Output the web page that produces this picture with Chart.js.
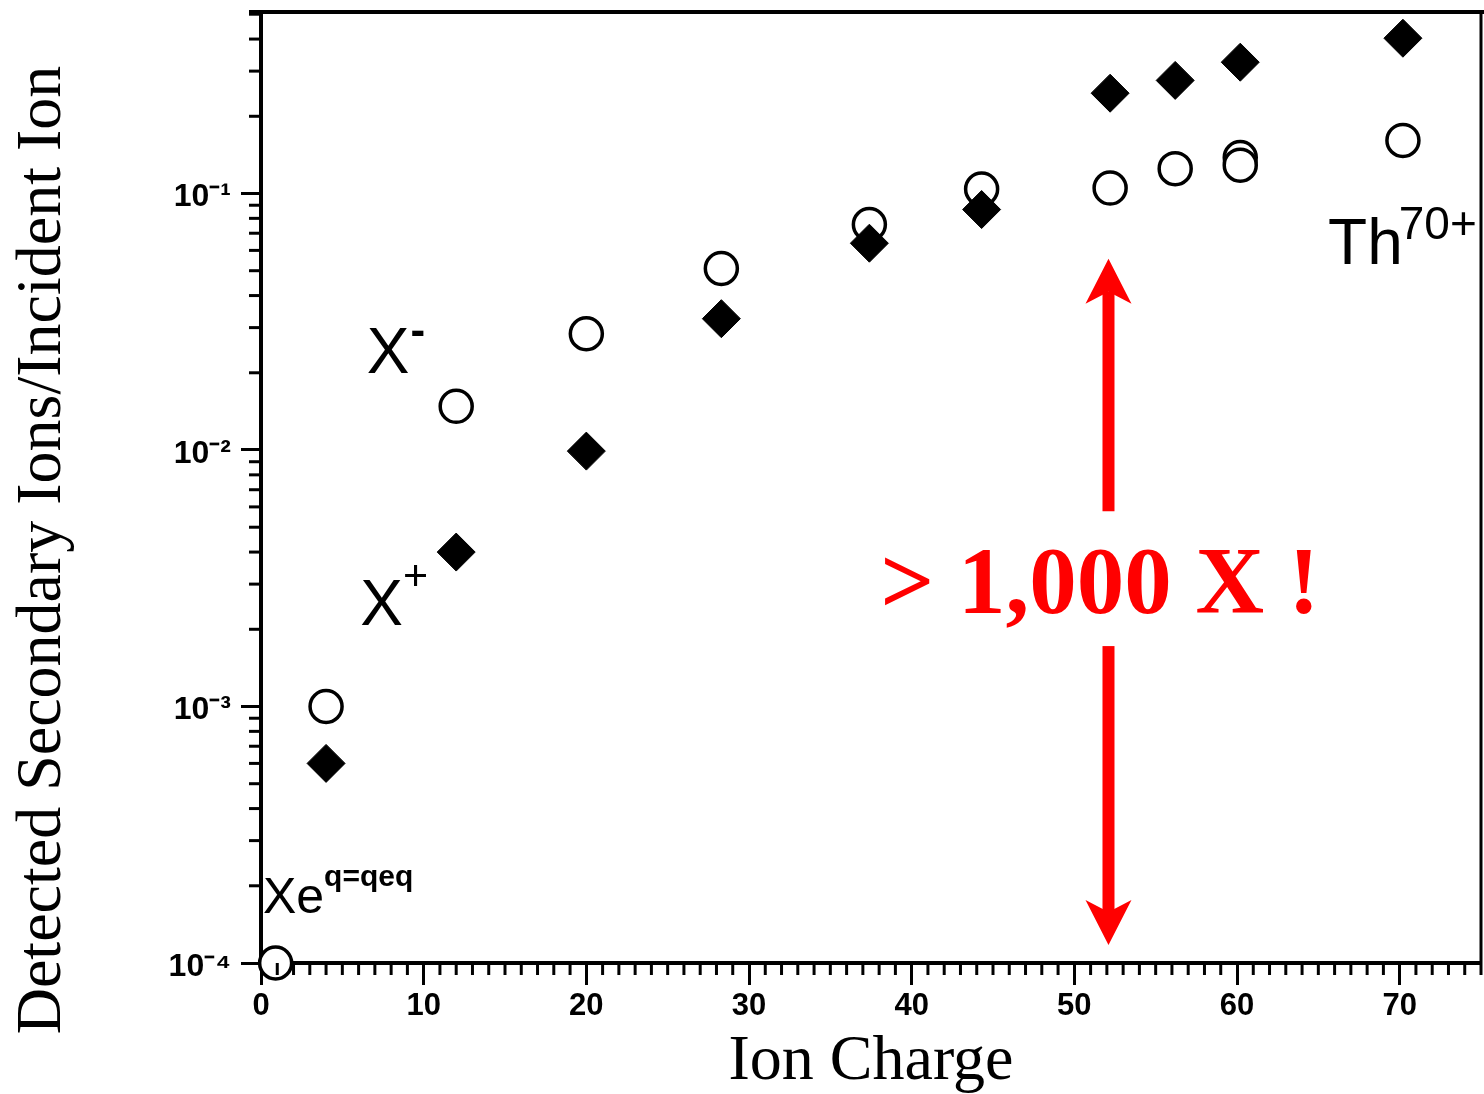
<!DOCTYPE html>
<html>
<head>
<meta charset="utf-8">
<script src="https://cdn.jsdelivr.net/npm/chart.js@4/dist/chart.umd.min.js"></script>
<style>
  html, body { margin: 0; padding: 0; background: #ffffff; }
  #wrap { width: 1484px; height: 1094px; position: relative; }
</style>
</head>
<body>
<div id="wrap"><canvas id="c" width="1484" height="1094"></canvas></div>
<script>
// ---- data ----
const negCharge = [0.9, 4, 12, 20, 28.3, 37.4, 44.3, 52.2, 56.2, 60.2, 60.2, 70.2];
const negYield  = [1.0e-4, 1.0e-3, 0.0148, 0.0284, 0.051, 0.0757, 0.104, 0.105, 0.125, 0.138, 0.129, 0.161];
const posCharge = [4, 12, 20, 28.3, 37.4, 44.3, 52.2, 56.2, 60.2, 70.2];
const posYield  = [6.0e-4, 0.0040, 0.0099, 0.0325, 0.064, 0.0866, 0.246, 0.276, 0.325, 0.403];

const xRange = [0, 75];
const yRange = [1e-4, 0.51];
const yTickValues = [1e-4, 1e-3, 1e-2, 1e-1];
const yTickLabels = ['10\u207B\u2074', '10\u207B\u00B3', '10\u207B\u00B2', '10\u207B\u00B9'];

const xTitle = 'Ion Charge';
const yTitle = 'Detected Secondary Ions/Incident Ion';

// annotation labels (anchor = left/baseline, in data units)
const noteText = ['X', 'X', 'Th', 'Xe'];
const noteSup  = ['-', '+', '70+', 'q=qeq'];
const noteX    = [6.5, 6.1, 65.6, 0.12];
const noteY    = [0.0199, 0.00207, 0.0533, 1.57e-4];

// red highlight: ratio arrow at one charge
const arrowCharge = 52.1;
const arrowEnds   = [0.0557, 1.175e-4];     // tips
const arrowGap    = [5.77e-3, 1.72e-3];     // shaft interrupted by the text
const ratioText   = '> 1,000 X !';
const ratioAt     = [51.57, 2.31e-3];       // centre x, baseline y

// ---- styles (kept apart from the data) ----
const noteStyle = [
  { size: 64, supSize: 44, supBold: true,  rise: 28, supGap: 1 },
  { size: 64, supSize: 43, supBold: false, rise: 35, supGap: 0 },
  { size: 64, supSize: 46, supBold: false, rise: 25, supGap: -4 },
  { size: 50, supSize: 30, supBold: true,  rise: 27, supGap: 0 }
];
const RED = '#ff0000';

const decor = {
  id: 'decor',
  afterDraw(chart) {
    const { ctx, chartArea: a, scales: { x, y } } = chart;
    ctx.save();
    ctx.strokeStyle = '#000';
    ctx.fillStyle = '#000';

    // top and right frame
    ctx.lineWidth = 4;
    ctx.beginPath(); ctx.moveTo(a.left - 12, a.top); ctx.lineTo(a.right + 3, a.top); ctx.stroke();
    ctx.lineWidth = 3;
    ctx.beginPath(); ctx.moveTo(a.right, a.top); ctx.lineTo(a.right, a.bottom); ctx.stroke();

    // minor x ticks (every unit)
    ctx.lineWidth = 3;
    for (let v = Math.ceil(x.min); v <= x.max; v++) {
      if (v % 10 === 0) continue;
      const px = x.getPixelForValue(v);
      ctx.beginPath(); ctx.moveTo(px, a.bottom); ctx.lineTo(px, a.bottom + 12); ctx.stroke();
    }
    // minor y ticks (2..9 per decade)
    for (let e = -5; e <= 0; e++) {
      for (let m = 2; m <= 9; m++) {
        const v = m * Math.pow(10, e);
        if (v < y.min || v > y.max) continue;
        const py = y.getPixelForValue(v);
        ctx.beginPath(); ctx.moveTo(a.left, py); ctx.lineTo(a.left - 12, py); ctx.stroke();
      }
    }

    // y axis title
    ctx.save();
    ctx.font = '64px "Liberation Serif", "Times New Roman", serif';
    ctx.textAlign = 'center';
    ctx.textBaseline = 'alphabetic';
    ctx.translate(60, 550);
    ctx.rotate(-Math.PI / 2);
    ctx.fillText(yTitle, 0, 0);
    ctx.restore();

    // annotation labels with superscripts
    ctx.textAlign = 'left';
    ctx.textBaseline = 'alphabetic';
    for (let i = 0; i < noteText.length; i++) {
      const s = noteStyle[i];
      const px = x.getPixelForValue(noteX[i]);
      const py = y.getPixelForValue(noteY[i]);
      ctx.font = s.size + 'px "Liberation Sans", Arial, sans-serif';
      ctx.fillText(noteText[i], px, py);
      const w = ctx.measureText(noteText[i]).width;
      ctx.font = (s.supBold ? 'bold ' : '') + s.supSize + 'px "Liberation Sans", Arial, sans-serif';
      ctx.fillText(noteSup[i], px + w + s.supGap, py - s.rise);
    }

    // red double arrow
    const ax = x.getPixelForValue(arrowCharge);
    const yTop = y.getPixelForValue(arrowEnds[0]);
    const yBot = y.getPixelForValue(arrowEnds[1]);
    const g1 = y.getPixelForValue(arrowGap[0]);
    const g2 = y.getPixelForValue(arrowGap[1]);
    const headL = 45, headW = 23, notch = 12, shaft = 12;
    ctx.fillStyle = RED;
    ctx.fillRect(ax - shaft / 2, yTop + headL - notch, shaft, g1 - (yTop + headL - notch));
    ctx.fillRect(ax - shaft / 2, g2, shaft, (yBot - headL + notch) - g2);
    ctx.beginPath();
    ctx.moveTo(ax, yTop);
    ctx.lineTo(ax + headW, yTop + headL);
    ctx.lineTo(ax, yTop + headL - notch);
    ctx.lineTo(ax - headW, yTop + headL);
    ctx.closePath(); ctx.fill();
    ctx.beginPath();
    ctx.moveTo(ax, yBot);
    ctx.lineTo(ax + headW, yBot - headL);
    ctx.lineTo(ax, yBot - headL + notch);
    ctx.lineTo(ax - headW, yBot - headL);
    ctx.closePath(); ctx.fill();

    // ratio text
    ctx.font = 'bold 95px "Liberation Serif", "Times New Roman", serif';
    ctx.textAlign = 'center';
    ctx.fillText(ratioText, x.getPixelForValue(ratioAt[0]), y.getPixelForValue(ratioAt[1]));

    ctx.restore();
  }
};

const toPoints = (xs, ys) => xs.map((v, i) => ({ x: v, y: ys[i] }));

new Chart(document.getElementById('c'), {
  type: 'scatter',
  data: {
    datasets: [
      {
        label: 'X+',
        data: toPoints(posCharge, posYield),
        pointStyle: 'rectRot',
        pointRadius: 19,
        pointBackgroundColor: '#000',
        pointBorderColor: '#000',
        pointBorderWidth: 1,
        order: 0,
        clip: false
      },
      {
        label: 'X-',
        data: toPoints(negCharge, negYield),
        pointStyle: 'circle',
        pointRadius: 16,
        pointBackgroundColor: '#ffffff',
        pointBorderColor: '#000',
        pointBorderWidth: 3.5,
        order: 1,
        clip: false
      }
    ]
  },
  options: {
    responsive: false,
    animation: false,
    events: [],
    layout: { autoPadding: false, padding: { top: 12, right: 3, left: 0, bottom: 0 } },
    plugins: { legend: { display: false }, tooltip: { enabled: false } },
    scales: {
      x: {
        type: 'linear',
        min: xRange[0],
        max: xRange[1],
        afterFit(s) { s.height = 131; s.paddingLeft = 0; s.paddingRight = 0; },
        border: { display: true, color: '#000', width: 4 },
        grid: { drawOnChartArea: false, drawTicks: true, tickLength: 22, tickWidth: 3, tickColor: '#000' },
        ticks: {
          stepSize: 10,
          includeBounds: false,
          color: '#000',
          padding: 3,
          maxRotation: 0,
          font: { family: '"Liberation Sans", Arial, sans-serif', size: 31, weight: 'bold' }
        },
        title: {
          display: true,
          text: xTitle,
          color: '#000',
          padding: { top: 0, bottom: 0 },
          font: { family: '"Liberation Serif", "Times New Roman", serif', size: 64, lineHeight: 1 }
        }
      },
      y: {
        type: 'logarithmic',
        min: yRange[0],
        max: yRange[1],
        afterFit(s) { s.width = 261; s.paddingTop = 0; s.paddingBottom = 0; },
        afterBuildTicks(s) { s.ticks = yTickValues.map(v => ({ value: v, major: true })); },
        border: { display: true, color: '#000', width: 4 },
        grid: { drawOnChartArea: false, drawTicks: true, tickLength: 20, tickWidth: 3, tickColor: '#000' },
        ticks: {
          color: '#000',
          padding: 10,
          labelOffset: 4,
          font: { family: '"Liberation Sans", Arial, sans-serif', size: 32, weight: 'bold' },
          callback(v) { const i = yTickValues.indexOf(v); return i >= 0 ? yTickLabels[i] : ''; }
        },
        title: { display: false }
      }
    }
  },
  plugins: [decor]
});
</script>
</body>
</html>
